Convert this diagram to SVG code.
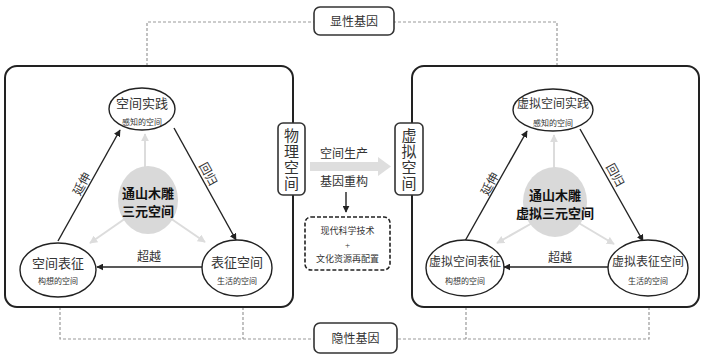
<svg xmlns="http://www.w3.org/2000/svg" width="704" height="356" viewBox="0 0 704 356">
<defs>
<style>
text{font-family:"Liberation Serif","Noto Sans CJK SC",serif;fill:#333;text-anchor:middle;dominant-baseline:central}
.panel{fill:#fff;stroke:#222;stroke-width:2}
.box{fill:#fff;stroke:#333;stroke-width:1.6}
.ell{fill:#fff;stroke:#222;stroke-width:1.4}
.core{fill:#d9d9d9;stroke:none}
.dash{fill:none;stroke:#999;stroke-width:1.2;stroke-dasharray:3 2}
.blk{fill:none;stroke:#222;stroke-width:1.4;marker-end:url(#ah)}
.gry{fill:none;stroke:#dcdcdc;stroke-width:2;marker-end:url(#ahg)}
.t1{font-size:13px}
.t1s{font-size:12px}
.t2{font-size:8px}
.tc{font-size:13px;font-weight:bold;fill:#111}
.tv{font-size:15px}
.tl{font-size:12px}
.ts{font-size:9px}
</style>
<marker id="ah" viewBox="0 0 10 10" refX="9" refY="5" markerWidth="7" markerHeight="7" orient="auto" markerUnits="userSpaceOnUse"><path d="M0,0L10,5L0,10z" fill="#222"/></marker>
<marker id="ahg" viewBox="0 0 10 10" refX="9" refY="5" markerWidth="8" markerHeight="8" orient="auto" markerUnits="userSpaceOnUse"><path d="M0,0L10,5L0,10z" fill="#dcdcdc"/></marker>
</defs>
<rect width="704" height="356" fill="#fff"/>

<g id="connectors">
<path class="dash" d="M147,66V22H557V66"/>
<path class="dash" d="M60,297V339H649V297"/>
<path class="dash" d="M243,297V339"/>
<path class="dash" d="M466,297V339"/>
</g>

<g id="left-panel">
<rect class="panel" x="5" y="66" width="288" height="241" rx="12"/>
</g>
<g id="right-panel">
<rect class="panel" x="412" y="66" width="287" height="241" rx="12"/>
</g>

<g id="left-arrows">
<line class="gry" x1="145" y1="168" x2="145" y2="134"/>
<line class="gry" x1="126" y1="218" x2="90" y2="243"/>
<line class="gry" x1="170" y1="218" x2="205" y2="242"/>
<line class="blk" x1="58" y1="241" x2="120" y2="130"/>
<line class="blk" x1="174" y1="128" x2="236" y2="240"/>
<line class="blk" x1="202" y1="267" x2="97" y2="267"/>
<text class="tl" x="82" y="184" transform="rotate(-61 82 184)">延伸</text>
<text class="tl" x="208" y="174" transform="rotate(61 208 174)">回归</text>
<text class="tl" x="149" y="257">超越</text>
</g>

<g id="right-arrows">
<line class="gry" x1="554" y1="168" x2="554" y2="135"/>
<line class="gry" x1="534" y1="222" x2="497" y2="243"/>
<line class="gry" x1="577" y1="222" x2="614" y2="244"/>
<line class="blk" x1="465" y1="241" x2="527" y2="131"/>
<line class="blk" x1="580" y1="129" x2="643" y2="241"/>
<line class="blk" x1="610" y1="267" x2="504" y2="267"/>
<text class="tl" x="490" y="184" transform="rotate(-61 490 184)">延伸</text>
<text class="tl" x="615" y="175" transform="rotate(61 615 175)">回归</text>
<text class="tl" x="560" y="258">超越</text>
</g>

<g id="node-core-left">
<ellipse class="core" cx="148" cy="200" rx="30" ry="34"/>
<text class="tc" x="148" y="193">通山木雕</text>
<text class="tc" x="148" y="211">三元空间</text>
</g>
<g id="node-practice-left">
<ellipse class="ell" cx="142" cy="109" rx="33" ry="21"/>
<text class="t1" x="142" y="103">空间实践</text>
<text class="t2" x="142" y="122">感知的空间</text>
</g>
<g id="node-repr-left">
<ellipse class="ell" cx="58" cy="270" rx="38" ry="27"/>
<text class="t1" x="58" y="263">空间表征</text>
<text class="t2" x="58" y="281">构想的空间</text>
</g>
<g id="node-reprspace-left">
<ellipse class="ell" cx="237" cy="268" rx="35" ry="28"/>
<text class="t1" x="237" y="262">表征空间</text>
<text class="t2" x="237" y="281">生活的空间</text>
</g>

<g id="node-core-right">
<ellipse class="core" cx="555" cy="202" rx="32" ry="35"/>
<text class="tc" x="555" y="195">通山木雕</text>
<text class="tc" x="555" y="213">虚拟三元空间</text>
</g>
<g id="node-practice-right">
<ellipse class="ell" cx="553" cy="110" rx="40" ry="21"/>
<text class="t1s" x="553" y="104">虚拟空间实践</text>
<text class="t2" x="553" y="123">感知的空间</text>
</g>
<g id="node-repr-right">
<ellipse class="ell" cx="465" cy="268" rx="39" ry="28"/>
<text class="t1s" x="465" y="262">虚拟空间表征</text>
<text class="t2" x="465" y="281">构想的空间</text>
</g>
<g id="node-reprspace-right">
<ellipse class="ell" cx="648" cy="268" rx="40" ry="28"/>
<text class="t1s" x="648" y="262">虚拟表征空间</text>
<text class="t2" x="648" y="281">生活的空间</text>
</g>

<g id="node-physical">
<rect class="box" x="278" y="123" width="27" height="72" rx="5"/>
<text class="tv" x="291.5" y="136">物</text>
<text class="tv" x="291.5" y="152">理</text>
<text class="tv" x="291.5" y="168">空</text>
<text class="tv" x="291.5" y="184">间</text>
</g>
<g id="node-virtual">
<rect class="box" x="395" y="123" width="28" height="72" rx="5"/>
<text class="tv" x="409" y="136">虚</text>
<text class="tv" x="409" y="152">拟</text>
<text class="tv" x="409" y="168">空</text>
<text class="tv" x="409" y="184">间</text>
</g>

<g id="node-production">
<path d="M310,162H378V157L391,166.5L378,176V171H310Z" fill="#dedede"/>
<text class="tl" x="344" y="154">空间生产</text>
<text class="tl" x="344" y="182">基因重构</text>
<line x1="346" y1="192" x2="346" y2="212" stroke="#222" stroke-width="1.4" marker-end="url(#ah)"/>
</g>
<g id="node-tech">
<rect x="305" y="217" width="85" height="53" rx="6" fill="#fff" stroke="#222" stroke-width="1.6" stroke-dasharray="4 2"/>
<text class="ts" x="347.5" y="231">现代科学技术</text>
<text class="ts" x="347.5" y="245">+</text>
<text class="ts" x="347.5" y="259">文化资源再配置</text>
</g>

<g id="node-explicit">
<rect class="box" x="314" y="7" width="80" height="28" rx="6"/>
<text class="tl" x="354" y="22">显性基因</text>
</g>
<g id="node-implicit">
<rect class="box" x="314" y="323" width="83" height="30" rx="6"/>
<text class="tl" x="355.5" y="339">隐性基因</text>
</g>
</svg>
